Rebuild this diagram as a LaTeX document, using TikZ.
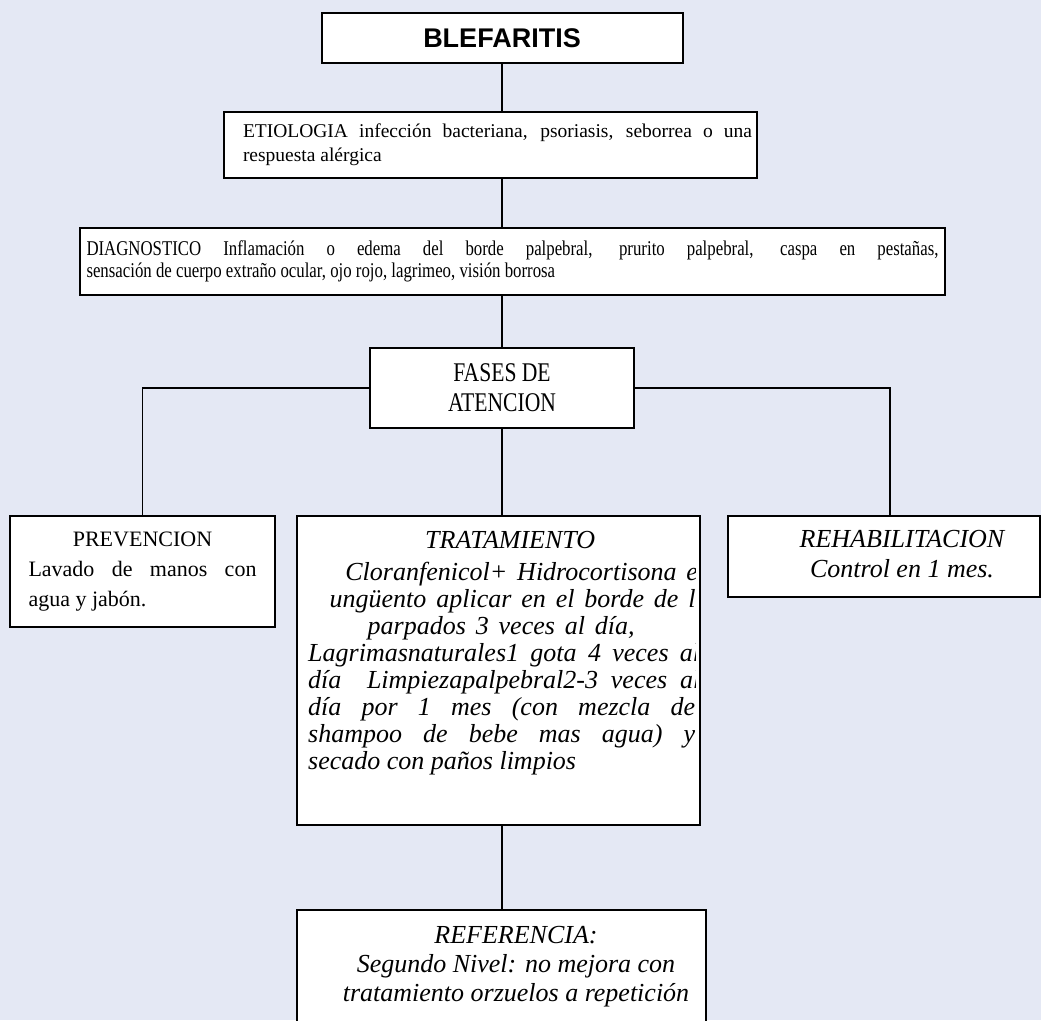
\documentclass[tikz,border=0pt]{standalone}
\usepackage{fontspec}
\setmainfont{Liberation Serif}
\newfontfamily\titulo{Liberation Sans}
\newfontfamily\estrecha[FakeStretch=0.8]{Liberation Serif}
\usetikzlibrary{calc}
\definecolor{fondo}{RGB}{228,232,244}
\newcommand\ancho{\spaceskip=.38em\relax}

\begin{document}
\begin{tikzpicture}[x=1pt,y=-1pt,
  caja/.style={draw, line width=2pt, fill=white, inner sep=4pt},
  enlace/.style={line width=1.8pt}]
\fill[fondo] (0,0) rectangle (1041,1020);
\useasboundingbox (0,0) rectangle (1041,1020);

\node[caja, minimum width=361pt, minimum height=50pt,
  font=\titulo\bfseries\fontsize{27}{30}\selectfont] (blef) at (502,38) {BLEFARITIS};

\node[caja, minimum width=533pt, minimum height=66pt, align=left,
  font=\fontsize{19.5}{24}\selectfont] (etio) at (490.5,145)
  {\hspace*{14pt}\makebox[509pt][s]{ETIOLOGIA infección bacteriana, psoriasis, seborrea o una}\\
   \hspace*{14pt}respuesta alérgica};

\node[caja, minimum width=865pt, minimum height=67pt, align=left,
  font=\estrecha\fontsize{21}{22}\selectfont] (diag) at (512.5,261.5)
  {\makebox[852pt][s]{DIAGNOSTICO Inflamación o edema del borde palpebral, prurito palpebral, caspa en pestañas,}\\
   sensación de cuerpo extraño ocular, ojo rojo, lagrimeo, visión borrosa};

\node[caja, minimum width=264pt, minimum height=80pt, align=center,
  font=\estrecha\fontsize{27}{30}\selectfont] (fases) at (502,388) {FASES DE\\ATENCION};

\node[caja, minimum width=265pt, minimum height=111pt, align=left,
  font=\fontsize{22}{30}\selectfont] (prev) at (142.5,571.5)
  {\makebox[228pt]{PREVENCION}\\
   \makebox[228pt][s]{Lavado de manos con}\\
   agua y jabón.};

\node[caja, minimum width=403pt, minimum height=309pt] (trat) at (498.5,670.5) {};
\begin{scope}
\clip (trat.north west) rectangle ([xshift=-6pt]trat.south east);
\node[anchor=north west, align=left, inner sep=0pt,
  font=\itshape\fontsize{26}{27}\selectfont] (tratxt) at (308,530.8)
  {\makebox[404pt]{TRATAMIENTO}\\[5pt]
   \makebox[404pt]{\ancho\hspace*{36pt}Cloranfenicol+ Hidrocortisona en}\\
   \makebox[404pt]{\ancho\hspace*{28pt}ungüento aplicar en el borde de los}\\
   \makebox[404pt]{\ancho\hspace*{-18pt}parpados 3 veces al día,}\\
   \makebox[392pt][s]{Lagrimasnaturales1 gota 4 veces al}\\
   \makebox[392pt][s]{día \ Limpiezapalpebral2-3 veces al}\\
   \makebox[387pt][s]{día por 1 mes (con mezcla de}\\
   \makebox[387pt][s]{shampoo de bebe mas agua) y}\\
   secado con paños limpios};
\end{scope}

\node[caja, minimum width=312pt, minimum height=81pt] (rehab) at (884,556.5) {};
\node[align=center, inner sep=0pt, font=\itshape\fontsize{26}{30}\selectfont]
  (rehabtxt) at (902,554.5) {REHABILITACION\\Control en 1 mes.};

\node[caja, minimum width=409pt, minimum height=130pt] (refe) at (501.5,975) {};
\node[anchor=north, align=center, inner sep=0pt, font=\itshape\fontsize{26}{29}\selectfont]
  (refetxt) at (516,925.8) {REFERENCIA:\\Segundo Nivel: no mejora con\\tratamiento orzuelos a repetición};

\draw[enlace] (blef.south) -- (blef.south |- etio.north);
\draw[enlace] (blef.south |- etio.south) -- (blef.south |- diag.north);
\draw[enlace] (fases.north |- diag.south) -- (fases.north);
\draw[enlace] (fases.west) -| (prev.north);
\draw[enlace] (fases.east) -| ([xshift=6pt]rehab.north);
\draw[enlace] (fases.south) -- (fases.south |- trat.north);
\draw[enlace] (fases.south |- trat.south) -- (fases.south |- refe.north);
\end{tikzpicture}
\end{document}
